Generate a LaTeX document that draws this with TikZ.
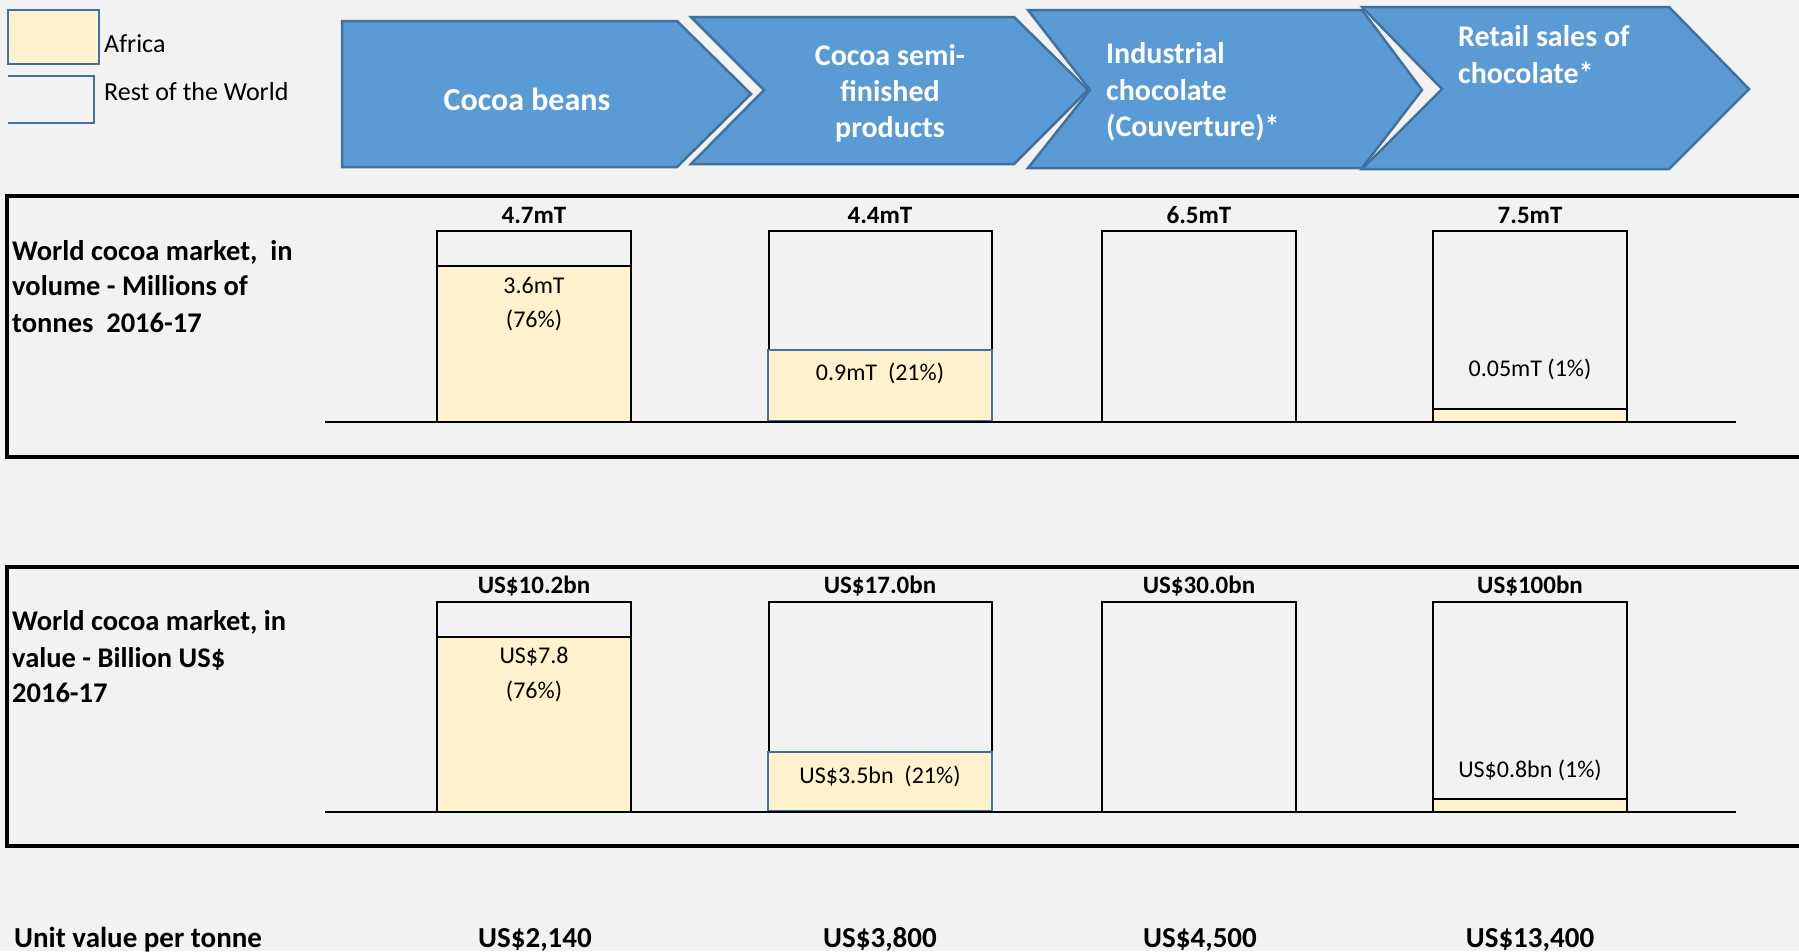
\documentclass[tikz,border=0pt]{standalone}
\usepackage{fontspec}
\setmainfont{Carlito}
\definecolor{bgc}{HTML}{F2F2F2}
\definecolor{chevfill}{HTML}{5B9BD5}
\definecolor{chevline}{HTML}{41719C}
\definecolor{africa}{HTML}{FFF2CC}
\begin{document}
\begin{tikzpicture}[x=1pt,y=-1pt,
  chev/.style={fill=chevfill, draw=chevline, line width=2.5pt, line join=miter},
  chevtxt/.style={text=white, font=\bfseries\fontsize{30}{36}\selectfont, inner sep=0pt, anchor=base},
  lbl/.style={font=\fontsize{24}{29}\selectfont, inner sep=0pt, anchor=base},
  leglbl/.style={font=\fontsize{26}{31}\selectfont, inner sep=0pt, anchor=base west},
  blbl/.style={font=\bfseries\fontsize{25}{30}\selectfont, inner sep=0pt, anchor=base},
  sidelbl/.style={font=\bfseries\fontsize{28.5}{34}\selectfont, inner sep=0pt, anchor=base west},
  btm/.style={font=\bfseries\fontsize{29}{34}\selectfont, inner sep=0pt, anchor=base},
  barbox/.style={draw=black, line width=2.3pt},
  afrbox/.style={fill=africa, draw=black, line width=2.3pt},
  afrblue/.style={fill=africa, draw=chevline, line width=2.5pt},
  panelline/.style={draw=black, line width=3.5pt},
  axisline/.style={draw=black, line width=2.5pt}]
\useasboundingbox (0,0) rectangle (1799,951);
\fill[bgc] (0,0) rectangle (1799,951);

% legend
\draw[fill=africa, draw=chevline, line width=2.5pt] (8,10) rectangle (99,64);
\draw[draw=chevline, line width=2.5pt] (8,76) -- (94,76) -- (94,123) -- (8,123);
\node[leglbl] (legA) at (104,52) {Africa};
\node[leglbl] (legR) at (104,100) {Rest of the World};

% chevrons
\draw[chev] (342,21) -- (677,21) -- (751,94) -- (677,167) -- (342,167) -- cycle;
\draw[chev] (691,17) -- (1014,17) -- (1088,90) -- (1014,164) -- (691,164) -- (764,90) -- cycle;
\draw[chev] (1028,10) -- (1362,10) -- (1422,90) -- (1362,168) -- (1028,168) -- (1090,90) -- cycle;
\draw[chev] (1362,7) -- (1669,7) -- (1749,89) -- (1669,169) -- (1362,169) -- (1442,89) -- cycle;

\node[chevtxt, font=\bfseries\fontsize{32}{38}\selectfont] (c1) at (527,110) {Cocoa beans};
\node[chevtxt] (c2a) at (890,65) {Cocoa semi-};
\node[chevtxt] (c2b) at (890,101) {finished};
\node[chevtxt] (c2c) at (890,137) {products};
\node[chevtxt, anchor=base west] (c3a) at (1106,63) {Industrial};
\node[chevtxt, anchor=base west] (c3b) at (1106,100) {chocolate};
\node[chevtxt, anchor=base west] (c3c) at (1106,136) {(Couverture)*};
\node[chevtxt, anchor=base west] (c4a) at (1458,46) {Retail sales of};
\node[chevtxt, anchor=base west] (c4b) at (1458,83) {chocolate*};

% ---------- panel 1: volume ----------
\draw[panelline] (1799,196) -- (7,196) -- (7,457) -- (1799,457);
\node[sidelbl] (v1) at (12,260) {World cocoa market,\ \ in};
\node[sidelbl] (v2) at (12,295) {volume - Millions of};
\node[sidelbl] (v3) at (12,332) {tonnes\ \ 2016-17};

\draw[barbox] (437,231) rectangle (631,422);
\draw[afrbox] (437,266) rectangle (631,422);
\draw[barbox] (769,231) rectangle (992,422);
\draw[afrblue] (768,350) rectangle (992,421);
\draw[barbox] (1102,231) rectangle (1296,422);
\draw[barbox] (1433,231) rectangle (1627,422);
\draw[afrbox] (1433,409) rectangle (1627,422);
\draw[axisline] (325,422) -- (1736,422);

\node[blbl] (vt1) at (534,223) {4.7mT};
\node[blbl] (vt2) at (880,223) {4.4mT};
\node[blbl] (vt3) at (1199,223) {6.5mT};
\node[blbl] (vt4) at (1530,223) {7.5mT};
\node[lbl] (va1) at (534,293) {3.6mT};
\node[lbl] (va1b) at (534,327) {(76\%)};
\node[lbl] (va2) at (880,380) {0.9mT\ \ (21\%)};
\node[lbl] (va4) at (1530,376) {0.05mT (1\%)};

% ---------- panel 2: value ----------
\draw[panelline] (1799,567) -- (7,567) -- (7,846) -- (1799,846);
\node[sidelbl] (w1) at (12,630) {World cocoa market, in};
\node[sidelbl] (w2) at (12,667) {value - Billion US\$};
\node[sidelbl] (w3) at (12,702) {2016-17};

\draw[barbox] (437,602) rectangle (631,812);
\draw[afrbox] (437,637) rectangle (631,812);
\draw[barbox] (769,602) rectangle (992,812);
\draw[afrblue] (768,752) rectangle (992,811);
\draw[barbox] (1102,602) rectangle (1296,812);
\draw[barbox] (1433,602) rectangle (1627,812);
\draw[afrbox] (1433,799) rectangle (1627,812);
\draw[axisline] (325,812) -- (1736,812);

\node[blbl] (wt1) at (534,593) {US\$10.2bn};
\node[blbl] (wt2) at (880,593) {US\$17.0bn};
\node[blbl] (wt3) at (1199,593) {US\$30.0bn};
\node[blbl] (wt4) at (1530,593) {US\$100bn};
\node[lbl] (wa1) at (534,663) {US\$7.8};
\node[lbl] (wa1b) at (534,698) {(76\%)};
\node[lbl] (wa2) at (880,783) {US\$3.5bn\ \ (21\%)};
\node[lbl] (wa4) at (1530,777) {US\$0.8bn (1\%)};

% ---------- bottom row ----------
\node[btm, anchor=base west] (u0) at (14,947) {Unit value per tonne};
\node[btm] (u1) at (535,947) {US\$2,140};
\node[btm] (u2) at (880,947) {US\$3,800};
\node[btm] (u3) at (1200,947) {US\$4,500};
\node[btm] (u4) at (1530,947) {US\$13,400};
\end{tikzpicture}
\end{document}
